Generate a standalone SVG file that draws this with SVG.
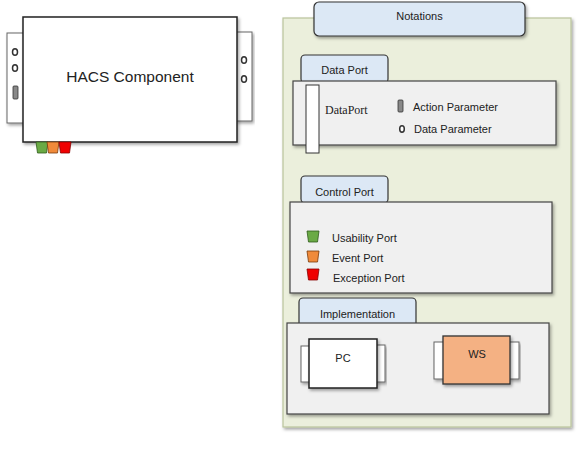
<svg xmlns="http://www.w3.org/2000/svg" width="579" height="449" viewBox="0 0 579 449">
  <defs>
    <filter id="shadow" x="-10%" y="-10%" width="125%" height="130%">
      <feDropShadow dx="1.5" dy="2" stdDeviation="1.5" flood-color="#000" flood-opacity="0.35"/>
    </filter>
    <path id="cport" d="M0,0 H12 L10.5,11 H1.5 Z"/>
  </defs>
  <style>
    text { font-family: "Liberation Sans", Arial, sans-serif; fill: #222; }
    text.serif { font-family: "Liberation Serif", "Times New Roman", serif; font-size: 12px; }
    .sm { font-size: 11px; }
    .frame { fill: #ffffff; stroke: #222; stroke-width: 1.5; }
    .tab { fill: #ffffff; stroke: #666; stroke-width: 1; }
    .panel { fill: #f0f0f0; stroke: #444; stroke-width: 1.2; }
    .label { fill: #dce8f5; stroke: #333; stroke-width: 1.2; }
    .hole { fill: #fff; stroke: #333; stroke-width: 1.5; }
    .act { fill: #888; stroke: #333; stroke-width: 0.8; }
    .use { fill: #6aaa45; stroke: #2e5a1a; stroke-width: 0.8; }
    .evt { fill: #f08a3a; stroke: #7a3a0a; stroke-width: 0.8; }
    .exc { fill: #f00000; stroke: #800; stroke-width: 0.8; }
  </style>

  <!-- component with its data and control ports -->
  <g id="hacs-component">
    <rect class="tab" x="7" y="33" width="17" height="90" filter="url(#shadow)"/>
    <rect class="tab" x="236" y="32" width="16" height="89" filter="url(#shadow)"/>
    <rect class="frame" x="23" y="17" width="214" height="125" filter="url(#shadow)"/>
    <ellipse class="hole" cx="15" cy="52" rx="2.5" ry="3.3"/>
    <ellipse class="hole" cx="15" cy="68" rx="2.5" ry="3.3"/>
    <rect class="act" x="13" y="86" width="5" height="13" rx="1"/>
    <ellipse class="hole" cx="244" cy="60" rx="2.5" ry="3.3"/>
    <ellipse class="hole" cx="244" cy="79" rx="2.5" ry="3.3"/>
    <text x="130" y="82" text-anchor="middle" font-size="15.5">HACS Component</text>
    <use href="#cport" class="use" x="36" y="142"/>
    <use href="#cport" class="evt" x="47" y="142"/>
    <use href="#cport" class="exc" x="59" y="142"/>
  </g>

  <!-- legend panel -->
  <g id="notations">
    <rect x="283" y="18" width="288" height="409" fill="#ebefdc" stroke="#b9c49c" stroke-width="1.2" filter="url(#shadow)"/>
    <rect class="label" x="314" y="2" width="211" height="34" rx="5" filter="url(#shadow)"/>
    <text class="sm" x="419.5" y="20" text-anchor="middle">Notations</text>
  </g>

  <g id="data-port">
    <rect class="label" x="301" y="55" width="87" height="28" rx="4"/>
    <text class="sm" x="344.5" y="74" text-anchor="middle">Data Port</text>
    <rect class="panel" x="293" y="81" width="263" height="64" filter="url(#shadow)"/>
    <rect x="306" y="85" width="13" height="68" fill="#fff" stroke="#333" stroke-width="1"/>
    <text class="serif" x="325" y="114">DataPort</text>
    <rect class="act" x="398" y="100" width="5" height="12" rx="1"/>
    <text class="sm" x="413" y="111">Action Parameter</text>
    <ellipse class="hole" cx="402" cy="129" rx="2.3" ry="3.2"/>
    <text class="sm" x="414" y="133">Data Parameter</text>
  </g>

  <g id="control-port">
    <rect class="label" x="301" y="176" width="87" height="27" rx="4"/>
    <text class="sm" x="344.5" y="196" text-anchor="middle">Control Port</text>
    <rect class="panel" x="290" y="202" width="262" height="91" filter="url(#shadow)"/>
    <use href="#cport" class="use" x="307" y="231"/>
    <text class="sm" x="332" y="242">Usability Port</text>
    <use href="#cport" class="evt" x="307" y="251"/>
    <text class="sm" x="332" y="262">Event Port</text>
    <use href="#cport" class="exc" x="307" y="269"/>
    <text class="sm" x="333" y="282">Exception Port</text>
  </g>

  <g id="implementation">
    <rect class="label" x="299" y="298" width="117" height="30" rx="4"/>
    <text class="sm" x="357.5" y="318" text-anchor="middle">Implementation</text>
    <rect class="panel" x="287" y="323" width="262" height="91" filter="url(#shadow)"/>
  </g>

  <g id="pc">
    <rect class="tab" x="301" y="346" width="9" height="36" filter="url(#shadow)"/>
    <rect class="tab" x="376" y="345" width="9" height="37" filter="url(#shadow)"/>
    <rect class="frame" x="309" y="339" width="68" height="49" filter="url(#shadow)"/>
    <text class="sm" x="343" y="362" text-anchor="middle">PC</text>
  </g>

  <g id="ws">
    <rect class="tab" x="434" y="342" width="10" height="37" filter="url(#shadow)"/>
    <rect class="tab" x="509" y="342" width="10" height="37" filter="url(#shadow)"/>
    <rect x="443" y="336" width="67" height="48" fill="#f4b183" stroke="#333" stroke-width="1.3" filter="url(#shadow)"/>
    <text class="sm" x="477" y="358" text-anchor="middle">WS</text>
  </g>
</svg>
